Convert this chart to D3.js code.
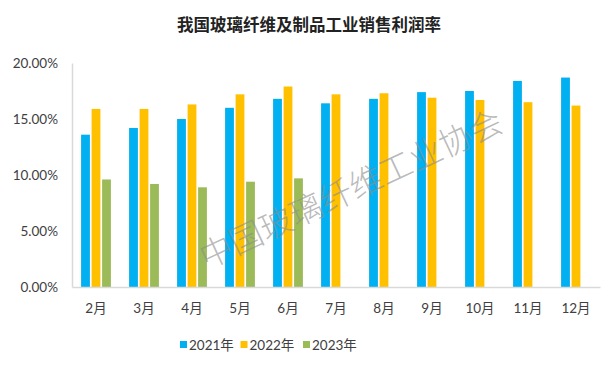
<!DOCTYPE html>
<html><head><meta charset="utf-8">
<script src="https://cdn.jsdelivr.net/npm/d3@7"></script>
<style>
body{margin:0;background:#fff;}
svg{display:block;}
</style></head>
<body><div id="chart"></div>
<script>
const title = "我国玻璃纤维及制品工业销售利润率";
const months = ["2月","3月","4月","5月","6月","7月","8月","9月","10月","11月","12月"];
const seriesNames = ["2021年","2022年","2023年"];
const colors = ["#00B0F0","#FFC000","#9BBB59"];
const s2021 = [13.6,14.2,15.0,16.0,16.8,16.4,16.8,17.4,17.5,18.4,18.7];
const s2022 = [15.9,15.9,16.3,17.2,17.9,17.2,17.3,16.9,16.7,16.5,16.2];
const s2023 = [9.6,9.2,8.9,9.4,9.7,null,null,null,null,null,null];
const yTicks = [0,5,10,15,20];
const watermark = "中国玻璃纤维工业协会";

const W = 615, H = 367;
const m = {left:72, right:15, top:63, bottom:80};
const font = "Lato, 'Noto Sans CJK SC', sans-serif";

const svg = d3.select("#chart").append("svg").attr("width",W).attr("height",H);

const x = d3.scaleBand().domain(months).range([m.left, W-m.right]);
const y = d3.scaleLinear().domain([0,20]).range([H-m.bottom, m.top]);
const bw = 8.8, gap = 1.7;
const xs = d3.scaleBand().domain([0,1,2]).range([0, 3*bw+2*gap]).paddingInner(gap/(bw+gap));

// title
svg.append("text").attr("x",309).attr("y",31).attr("text-anchor","middle")
  .attr("font-family","'Noto Sans CJK SC', sans-serif").attr("font-weight","bold")
  .attr("font-size",16.5).attr("fill","#222").text(title);

// bars
const series = [s2021, s2022, s2023];
series.forEach((vals, si) => {
  svg.append("g").selectAll("rect")
    .data(months.map((mm,i)=>({m:mm, v:vals[i]})).filter(d=>d.v!=null))
    .join("rect")
    .attr("x", d => x(d.m) + x.bandwidth()/2 - (3*bw+2*gap)/2 + xs(si))
    .attr("width", xs.bandwidth())
    .attr("y", d => y(d.v))
    .attr("height", d => y(0) - y(d.v))
    .attr("fill", colors[si]);
});

// axes
const yAxis = d3.axisLeft(y).tickValues(yTicks).tickSize(0).tickPadding(14)
  .tickFormat(d => d.toFixed(2) + "%");
const gy = svg.append("g").attr("transform",`translate(${m.left},0)`).call(yAxis);
gy.select(".domain").attr("stroke","#d9d9d9").attr("stroke-width",1.5);
gy.selectAll("text").attr("font-family",font).attr("font-size",13.5).attr("fill","#404040");

const xAxis = d3.axisBottom(x).tickSize(0).tickPadding(16);
const gx = svg.append("g").attr("transform",`translate(0,${y(0)})`).call(xAxis);
gx.select(".domain").attr("stroke","#d9d9d9").attr("stroke-width",1.5);
gx.selectAll("text").attr("font-family",font).attr("font-size",13.5).attr("fill","#404040");

// legend
const legX = [180, 240.5, 303];
const lg = svg.append("g");
seriesNames.forEach((n,i)=>{
  lg.append("rect").attr("x",legX[i]).attr("y",341).attr("width",7).attr("height",7).attr("fill",colors[i]);
  lg.append("text").attr("x",legX[i]+9).attr("y",349.5).attr("font-family",font)
    .attr("font-size",13.5).attr("fill","#404040").text(n);
});

// watermark
svg.append("text").attr("transform","translate(350,187) rotate(-25)")
  .attr("text-anchor","middle").attr("dominant-baseline","central")
  .attr("font-family","'Noto Sans CJK SC', sans-serif").attr("font-weight",300)
  .attr("font-size",33).attr("fill","#8c8c8c").attr("fill-opacity",0.6)
  .text(watermark);
</script></body></html>
